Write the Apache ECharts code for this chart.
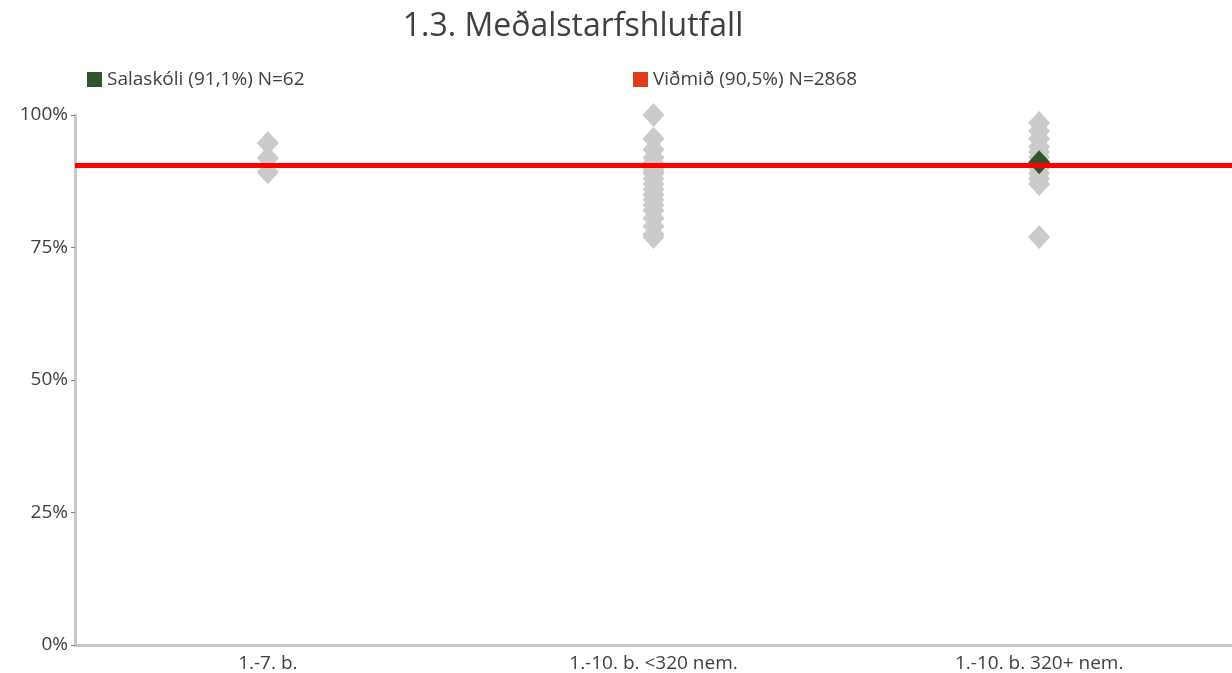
<!DOCTYPE html>
<html><head><meta charset="utf-8">
<script src="https://cdn.jsdelivr.net/npm/echarts@6/dist/echarts.min.js"></script>
<style>html,body{margin:0;padding:0;background:#fff}#c{width:1232px;height:673px}</style>
</head><body><div id="c"></div>
<script>
const titleText = '1.3. Meðalstarfshlutfall';
const categories = ['1.-7. b.', '1.-10. b. <320 nem.', '1.-10. b. 320+ nem.'];
const yTicks = [0, 25, 50, 75, 100];
const schoolName = 'Salaskóli (91,1%) N=62';
const benchName = 'Viðmið (90,5%) N=2868';
const benchValue = 90.5;
const group1 = [94.7, 91.9, 89.2];
const group2 = [100, 95.5, 93.5, 92, 91, 90, 89.5, 89, 88, 87, 86, 85, 84, 83, 82, 80.5, 79, 77.5, 77];
const group3 = [98.5, 97, 95.5, 94, 93, 92, 91, 90, 89, 88, 87, 77];
const schoolCategory = 2;
const schoolValue = 91.1;

const others = [];
[group1, group2, group3].forEach((g, i) => g.forEach(v => others.push([i, v])));

const font = '"Open Sans", Lato, sans-serif';
const chart = echarts.init(document.getElementById('c'));
chart.setOption({
  animation: false,
  textStyle: {fontFamily: font},
  title: {text: titleText, left: 568, top: 6, textAlign: 'center',
    textStyle: {fontSize: 32, fontWeight: 'normal', color: '#404040', fontFamily: font}},
  legend: [
    {data: [{name: schoolName}], left: 82, top: 65, icon: 'rect', itemWidth: 15, itemHeight: 15, itemGap: 10,
     textStyle: {fontSize: 19, color: '#404040', fontFamily: font}},
    {data: [{name: benchName}], left: 628, top: 65, icon: 'rect', itemWidth: 15, itemHeight: 15, itemGap: 10,
     textStyle: {fontSize: 19, color: '#404040', fontFamily: font}}
  ],
  grid: {left: 75, right: 0, top: 115, bottom: 28, containLabel: false},
  xAxis: {type: 'category', data: categories, boundaryGap: true,
    axisLine: {lineStyle: {color: '#c8c8c8', width: 3}},
    axisTick: {show: false},
    axisLabel: {fontSize: 19, color: '#404040', margin: 9, fontFamily: font},
    splitLine: {show: false}},
  yAxis: {type: 'value', min: 0, max: 100, interval: 25,
    axisLine: {show: true, lineStyle: {color: '#c8c8c8', width: 3}},
    axisTick: {show: true, length: 4, lineStyle: {color: '#808080', width: 1}},
    axisLabel: {fontSize: 19, color: '#404040', margin: 7, fontFamily: font,
      formatter: v => yTicks.includes(v) ? v + '%' : ''},
    splitLine: {show: false}},
  series: [
    {name: 'others', type: 'scatter', data: others, symbol: 'diamond', symbolSize: [22, 24],
     itemStyle: {color: '#cbcbcb', opacity: 1}, z: 2},
    {name: benchName, type: 'line', data: [], itemStyle: {color: '#e03c1a'},
     markLine: {silent: true, symbol: 'none', label: {show: false},
       lineStyle: {color: '#ff0000', width: 5, type: 'solid', opacity: 1},
       data: [{yAxis: benchValue}]}, z: 3},
    {name: schoolName, type: 'scatter', data: [[schoolCategory, schoolValue]], symbol: 'diamond',
     symbolSize: [22, 24], itemStyle: {color: '#2f5530', opacity: 1}, z: 4}
  ]
});
</script></body></html>
